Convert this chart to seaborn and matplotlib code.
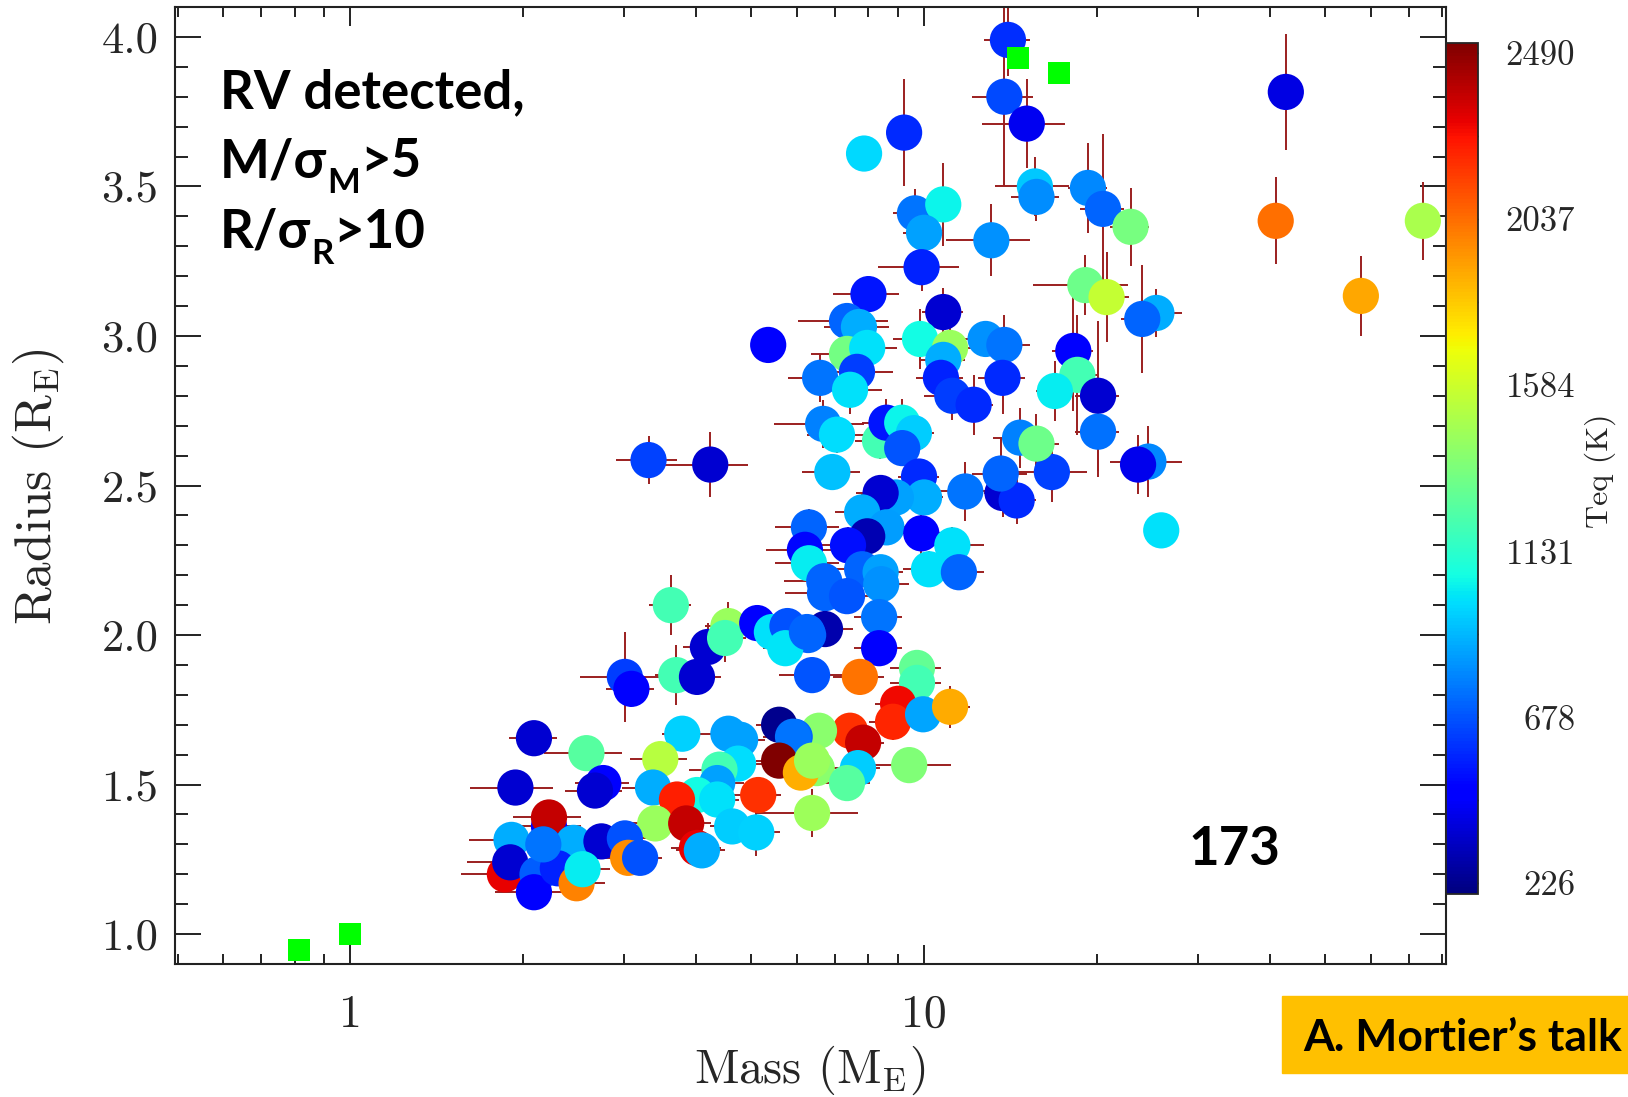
import matplotlib
import matplotlib.pyplot as plt
import matplotlib.ticker as mticker
import numpy as np
import pandas as pd
import seaborn as sns
from matplotlib.cm import ScalarMappable
from matplotlib.colors import Normalize
from matplotlib.patches import Rectangle

matplotlib.use("Agg")

W, H = 1628, 1097

# planets: mass (M_E), radius (R_E), Teq (K) and errors
mass = [14.0, 13.8, 15.1, 9.23, 7.86, 15.6, 15.7, 19.3, 20.5, 22.9,
        9.64, 10.8, 10.0, 13.1, 9.9, 8.0, 10.8, 19.1, 20.8, 25.4,
        24.0, 42.7, 41.0, 74.0, 57.7, 18.2, 18.5, 16.9, 20.1, 20.1,
        24.6, 23.6, 16.7, 25.9, 4.24, 5.35, 7.34, 7.7, 7.34, 7.96,
        9.84, 11.1, 10.8, 10.7, 6.59, 7.64, 7.43, 12.8, 13.8, 13.7,
        11.2, 12.2, 6.67, 7.05, 8.38, 8.6, 9.16, 9.6, 9.16, 14.7,
        15.7, 6.92, 9.8, 13.7, 14.5, 13.6, 11.8, 10.0, 8.93, 8.4,
        7.8, 8.6, 7.96, 9.89, 11.2, 10.2, 11.5, 6.3, 6.2, 6.3,
        7.37, 7.8, 8.4, 6.7, 3.31, 6.72, 7.34, 8.42, 8.35, 6.72,
        6.28, 8.35, 7.73, 6.38, 9.72, 9.72, 9.01, 8.83, 9.96, 11.1,
        7.43, 7.83, 6.56, 5.95, 6.5, 7.67, 7.34, 9.42, 6.38, 3.62,
        3.01, 3.09, 3.70, 4.02, 4.2, 4.56, 4.5, 5.12, 5.43, 5.78,
        5.73, 6.25, 2.09, 2.58, 1.94, 2.76, 2.67, 3.79, 3.47, 3.37,
        4.56, 4.78, 5.59, 5.91, 5.59, 6.1, 6.38, 4.74, 4.4, 4.36,
        4.02, 4.36, 5.14, 3.71, 3.40, 3.85, 4.63, 5.1, 4.02, 4.1,
        2.22, 2.22, 1.91, 2.45, 2.74, 3.01, 3.05, 3.2, 1.86, 1.90,
        2.12, 2.09, 2.30, 2.48, 2.54, 2.17]
radius = [3.99, 3.80, 3.71, 3.68, 3.61, 3.50, 3.465, 3.495, 3.425, 3.365,
          3.41, 3.44, 3.345, 3.32, 3.23, 3.14, 3.08, 3.17, 3.13, 3.077,
          3.057, 3.816, 3.385, 3.385, 3.134, 2.95, 2.87, 2.816, 2.80, 2.68,
          2.58, 2.57, 2.545, 2.35, 2.57, 2.97, 3.05, 3.03, 2.94, 2.96,
          2.99, 2.96, 2.92, 2.86, 2.86, 2.88, 2.82, 2.99, 2.97, 2.86,
          2.80, 2.77, 2.706, 2.67, 2.65, 2.71, 2.71, 2.675, 2.625, 2.66,
          2.64, 2.545, 2.53, 2.475, 2.45, 2.54, 2.48, 2.46, 2.46, 2.475,
          2.41, 2.36, 2.33, 2.34, 2.30, 2.22, 2.21, 2.36, 2.285, 2.24,
          2.30, 2.22, 2.21, 2.18, 2.585, 2.14, 2.13, 2.17, 2.06, 2.02,
          2.00, 1.956, 1.86, 1.866, 1.89, 1.84, 1.77, 1.71, 1.735, 1.76,
          1.68, 1.64, 1.68, 1.66, 1.555, 1.555, 1.505, 1.565, 1.405, 2.10,
          1.86, 1.82, 1.866, 1.86, 1.96, 2.03, 1.99, 2.04, 2.01, 2.03,
          1.956, 2.01, 1.655, 1.605, 1.49, 1.505, 1.48, 1.67, 1.585, 1.49,
          1.67, 1.65, 1.70, 1.66, 1.58, 1.54, 1.58, 1.57, 1.55, 1.505,
          1.465, 1.45, 1.465, 1.45, 1.37, 1.37, 1.36, 1.34, 1.288, 1.28,
          1.36, 1.39, 1.315, 1.305, 1.31, 1.32, 1.255, 1.255, 1.20, 1.24,
          1.20, 1.14, 1.22, 1.17, 1.217, 1.30]
teq = [590, 650, 430, 580, 980, 940, 810, 795, 720, 1340,
       750, 1040, 855, 815, 560, 540, 360, 1320, 1560, 880,
       720, 400, 2030, 1490, 1900, 460, 1200, 1030, 360, 740,
       800, 420, 640, 1000, 360, 460, 720, 880, 1330, 1000,
       1060, 1440, 880, 560, 750, 630, 1000, 815, 750, 580,
       630, 580, 780, 990, 1200, 540, 1040, 950, 680, 780,
       1320, 930, 580, 360, 580, 720, 750, 880, 855, 360,
       880, 840, 300, 450, 1000, 1000, 720, 720, 500, 1030,
       520, 720, 850, 720, 640, 720, 680, 815, 750, 290,
       720, 460, 2020, 680, 1290, 1200, 2290, 2210, 860, 1890,
       2190, 2380, 1400, 720, 1400, 950, 1250, 1370, 1450, 1200,
       630, 460, 1200, 360, 360, 1440, 1200, 460, 1000, 670,
       1010, 720, 360, 1250, 360, 460, 360, 960, 1520, 880,
       855, 855, 230, 750, 2510, 1880, 1440, 990, 1200, 855,
       1060, 1000, 2190, 2230, 1440, 2380, 950, 960, 2300, 880,
       490, 2380, 880, 880, 360, 670, 1960, 670, 2300, 360,
       700, 460, 560, 1990, 1030, 750]
mass_err = [1.3, 1.7, 2.5, 0.5, 0.3, 2.3, 1.5, 1.5, 1.8, 1.8,
            0.8, 0.8, 0.8, 2.2, 1.6, 1.05, 0.9, 3.6, 2.0, 2.8,
            2.0, 2.0, 1.5, 2.0, 1.5, 1.5, 1.5, 1.2, 1.8, 1.8,
            3.5, 1.5, 2.5, 1.5, 0.7, 0.3, 1.3, 1.0, 1.0, 1.0,
            1.0, 1.2, 1.0, 1.0, 0.8, 1.2, 1.0, 1.2, 1.5, 1.3,
            1.2, 1.0, 1.2, 0.8, 0.8, 0.8, 0.8, 0.8, 0.8, 1.5,
            1.5, 0.8, 0.8, 1.0, 1.2, 1.5, 1.5, 0.8, 0.8, 0.8,
            0.8, 1.0, 0.8, 0.8, 1.5, 1.0, 1.2, 0.8, 0.9, 0.8,
            0.8, 0.8, 0.8, 1.0, 0.4, 1.0, 1.0, 1.0, 0.8, 0.8,
            0.8, 0.8, 0.8, 0.8, 1.0, 1.0, 0.8, 0.8, 0.8, 0.9,
            0.7, 0.7, 0.7, 0.7, 0.7, 0.7, 0.7, 1.7, 1.3, 0.3,
            0.5, 0.3, 0.3, 0.4, 0.4, 0.4, 0.4, 0.5, 0.6, 0.6,
            0.5, 0.6, 0.2, 0.4, 0.32, 0.3, 0.3, 0.3, 0.4, 0.4,
            0.5, 0.5, 0.5, 0.5, 0.5, 0.5, 0.5, 0.5, 0.5, 0.5,
            0.4, 0.4, 0.5, 0.4, 0.3, 0.4, 0.4, 0.5, 0.4, 0.4,
            0.3, 0.3, 0.3, 0.3, 0.3, 0.3, 0.3, 0.3, 0.3, 0.3,
            0.3, 0.3, 0.3, 0.3, 0.3, 0.3]
radius_err = [0.12, 0.30, 0.15, 0.18, 0.03, 0.10, 0.08, 0.15, 0.25, 0.13,
              0.08, 0.14, 0.10, 0.12, 0.08, 0.06, 0.08, 0.10, 0.15, 0.08,
              0.18, 0.195, 0.145, 0.13, 0.135, 0.20, 0.20, 0.10, 0.25, 0.15,
              0.12, 0.10, 0.10, 0.03, 0.11, 0.05, 0.06, 0.05, 0.05, 0.05,
              0.10, 0.10, 0.08, 0.10, 0.08, 0.08, 0.08, 0.05, 0.10, 0.12,
              0.08, 0.10, 0.08, 0.06, 0.06, 0.08, 0.08, 0.06, 0.06, 0.10,
              0.10, 0.05, 0.06, 0.08, 0.08, 0.12, 0.10, 0.06, 0.06, 0.06,
              0.06, 0.06, 0.06, 0.07, 0.06, 0.06, 0.06, 0.06, 0.06, 0.05,
              0.06, 0.06, 0.05, 0.06, 0.08, 0.06, 0.06, 0.06, 0.06, 0.06,
              0.06, 0.06, 0.06, 0.06, 0.06, 0.06, 0.06, 0.06, 0.06, 0.07,
              0.06, 0.06, 0.06, 0.06, 0.06, 0.06, 0.06, 0.05, 0.08, 0.10,
              0.15, 0.06, 0.10, 0.06, 0.08, 0.08, 0.08, 0.05, 0.05, 0.05,
              0.05, 0.05, 0.05, 0.05, 0.06, 0.06, 0.06, 0.05, 0.05, 0.05,
              0.05, 0.05, 0.05, 0.05, 0.05, 0.05, 0.05, 0.05, 0.05, 0.05,
              0.05, 0.05, 0.05, 0.05, 0.05, 0.05, 0.05, 0.08, 0.05, 0.05,
              0.05, 0.05, 0.05, 0.05, 0.05, 0.05, 0.05, 0.05, 0.05, 0.05,
              0.05, 0.05, 0.05, 0.05, 0.05, 0.05]

# solar system planets (green squares): Venus, Earth, Uranus, Neptune
ss_mass = [0.815, 1.0, 14.6, 17.2]
ss_radius = [0.948, 1.0, 3.93, 3.88]

cbar_ticks = [226, 678, 1131, 1584, 2037, 2490]
teq_min, teq_max = 196, 2517

sns.set_style("ticks")
plt.rcParams["font.family"] = ["cmr10", "DejaVu Serif"]
plt.rcParams["mathtext.fontset"] = "cm"
plt.rcParams["axes.formatter.use_mathtext"] = True
plt.rcParams["axes.unicode_minus"] = False
SANS = ["Lato", "DejaVu Sans"]
JET = matplotlib.colormaps["jet"]

df = pd.DataFrame({"mass": mass, "radius": radius, "teq": teq,
                   "mass_err": mass_err, "radius_err": radius_err})


def fx(x):
    return x / W


def fy(y):
    return 1 - y / H


fig = plt.figure(figsize=(W / 100, H / 100), dpi=100)
ax = fig.add_axes([fx(175), fy(964), (1446 - 175) / W, (964 - 7) / H])

ax.errorbar(df["mass"], df["radius"], xerr=df["mass_err"], yerr=df["radius_err"],
            fmt="none", ecolor="#9b1f1f", elinewidth=1.4, capsize=0, zorder=1)
sns.scatterplot(data=df, x="mass", y="radius", hue="teq", palette=JET,
                hue_norm=(teq_min, teq_max), s=680, linewidth=0, legend=False,
                ax=ax, zorder=2)
ax.scatter(ss_mass, ss_radius, marker="s", s=250, color="#00ff00",
           linewidth=0, zorder=3)

ax.set_xscale("log")
ax.set_xlim(0.495, 81.2)
ax.set_ylim(0.90, 4.10)
ax.set_xlabel("")
ax.set_ylabel("")

ax.xaxis.set_major_locator(mticker.FixedLocator([1, 10]))
ax.xaxis.set_major_formatter(mticker.FixedFormatter(["1", "10"]))
ax.xaxis.set_minor_locator(mticker.LogLocator(base=10, subs=np.arange(2, 10)))
ax.xaxis.set_minor_formatter(mticker.NullFormatter())
ax.yaxis.set_major_locator(mticker.MultipleLocator(0.5))
ax.yaxis.set_minor_locator(mticker.MultipleLocator(0.1))
ax.yaxis.set_major_formatter(mticker.FormatStrFormatter("%.1f"))

ax.tick_params(which="both", direction="in", top=True, right=True,
               width=1.4, color="#222222")
ax.tick_params(axis="x", which="major", length=13.5, labelsize=33, pad=22)
ax.tick_params(axis="x", which="minor", length=7)
ax.tick_params(axis="y", which="major", length=18.5, labelsize=32, pad=12)
ax.tick_params(axis="y", which="minor", length=9.5)
for sp in ax.spines.values():
    sp.set_linewidth(1.5)
    sp.set_color("#222222")

fig.text(fx(810), fy(1083), "Mass (M$_{\\rm E}$)", fontsize=35,
         ha="center", va="baseline")
fig.text(fx(38), fy(487), "Radius (R$_{\\rm E}$)", fontsize=37,
         rotation=90, ha="center", va="center")

# colorbar glued to the right spine
cax = fig.add_axes([fx(1446), fy(894), 32 / W, 851 / H])
sm = ScalarMappable(norm=Normalize(teq_min, teq_max), cmap=JET)
cb = fig.colorbar(sm, cax=cax)
cb.set_ticks(cbar_ticks)
cb.set_ticklabels([str(t) for t in cbar_ticks])
cax.set_yticks(np.convolve(cbar_ticks, [0.5, 0.5], mode="valid"), minor=True)
cax.tick_params(which="both", direction="in", length=4, width=1,
                right=True, left=False, labelsize=25, pad=70)
for lab in cax.get_yticklabels():
    lab.set_horizontalalignment("right")
cb.outline.set_linewidth(1.3)
fig.text(fx(1600), fy(471), "Teq (K)", fontsize=23, rotation=90,
         ha="center", va="center")

# annotations
bold = dict(fontweight="bold", family=SANS, color="black")
fig.text(fx(220), fy(108), "RV detected,", fontsize=38, va="baseline", **bold)

fig.canvas.draw()
renderer = fig.canvas.get_renderer()


def write_ratio(y, main, sub, tail):
    t1 = fig.text(fx(220), fy(y), main, fontsize=38, va="baseline", **bold)
    x1 = t1.get_window_extent(renderer).x1
    t2 = fig.text(x1 / W, fy(y + 16), sub, fontsize=25, va="baseline", **bold)
    x2 = t2.get_window_extent(renderer).x1
    fig.text(x2 / W, fy(y), tail, fontsize=38, va="baseline", **bold)


write_ratio(177, "M/σ", "M", ">5")
write_ratio(248, "R/σ", "R", ">10")

fig.text(fx(1188), fy(865), "173", fontsize=38, va="baseline", **bold)

fig.patches.append(Rectangle((fx(1282), fy(1073)), (W - 1282) / W, 77 / H,
                             transform=fig.transFigure, color="#ffc000",
                             zorder=0))
fig.text(fx(1303), fy(1051), "A. Mortier\u2019s talk", fontsize=32,
         va="baseline", **bold)

fig.savefig("out.png", dpi=100)
